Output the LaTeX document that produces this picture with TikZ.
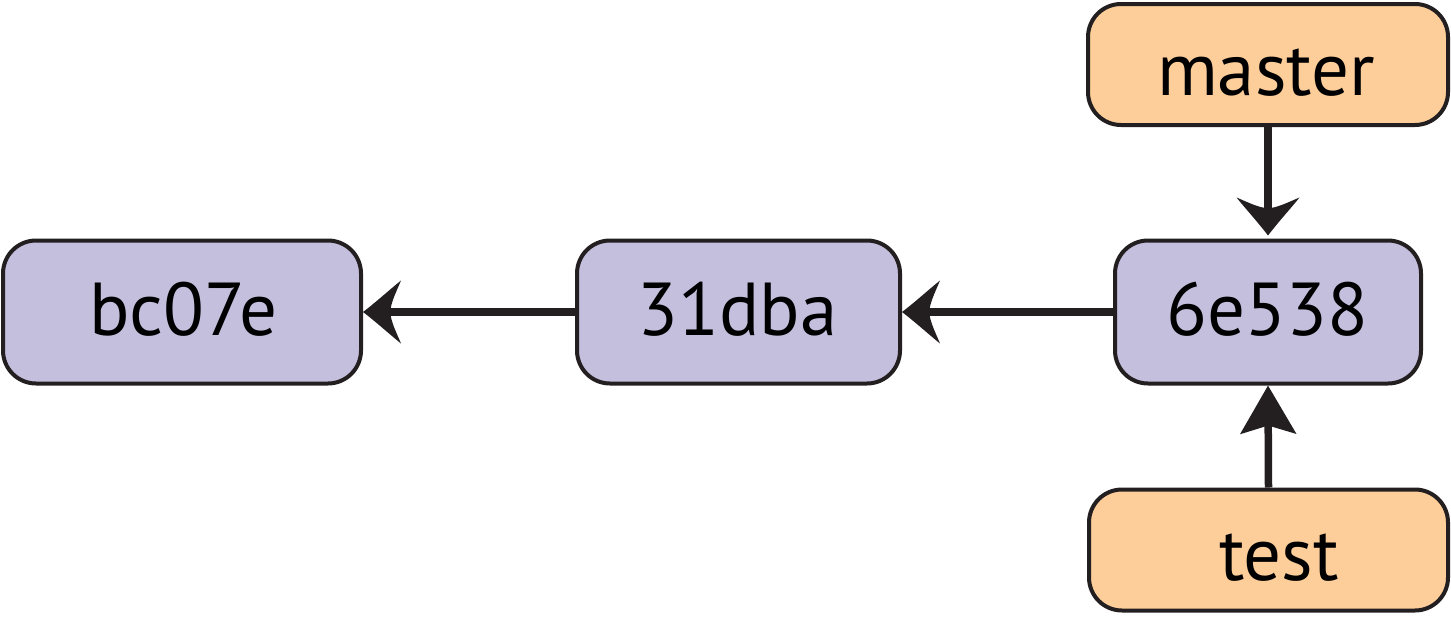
\documentclass[tikz,border=0pt]{standalone}
\usepackage{fontspec}
\setmainfont{PT Sans}
\usetikzlibrary{arrows.meta}
\definecolor{commitfill}{HTML}{C5BFDE}
\definecolor{branchfill}{HTML}{FDCE9A}
\definecolor{edgecol}{HTML}{231F20}
\pgfdeclarearrow{
  name=CurvyBarb,
  parameters={\the\pgfarrowlength,\the\pgfarrowwidth},
  setup code={
    \pgfarrowssettipend{0pt}
    \pgfarrowssetlineend{-0.5\pgfarrowlength}
    \pgfarrowssetbackend{-\pgfarrowlength}
    \pgfarrowssavethe\pgfarrowlength
    \pgfarrowssavethe\pgfarrowwidth
  },
  drawing code={
    \pgfpathmoveto{\pgfpointorigin}
    \pgfpathcurveto{\pgfpoint{-0.35\pgfarrowlength}{0.16\pgfarrowwidth}}{\pgfpoint{-0.75\pgfarrowlength}{0.38\pgfarrowwidth}}{\pgfpoint{-\pgfarrowlength}{0.5\pgfarrowwidth}}
    \pgfpathcurveto{\pgfpoint{-0.86\pgfarrowlength}{0.3\pgfarrowwidth}}{\pgfpoint{-0.72\pgfarrowlength}{0.13\pgfarrowwidth}}{\pgfpoint{-0.72\pgfarrowlength}{0pt}}
    \pgfpathcurveto{\pgfpoint{-0.72\pgfarrowlength}{-0.13\pgfarrowwidth}}{\pgfpoint{-0.86\pgfarrowlength}{-0.3\pgfarrowwidth}}{\pgfpoint{-\pgfarrowlength}{-0.5\pgfarrowwidth}}
    \pgfpathcurveto{\pgfpoint{-0.75\pgfarrowlength}{-0.38\pgfarrowwidth}}{\pgfpoint{-0.35\pgfarrowlength}{-0.16\pgfarrowwidth}}{\pgfpointorigin}
    \pgfpathclose
    \pgfusepathqfill
  },
  defaults={length=38pt,width=63pt}
}
\tikzset{
  box/.style={draw=edgecol, line width=4pt, rounded corners=33pt, inner sep=0pt},
  commit/.style={box, fill=commitfill, minimum height=143pt},
  branch/.style={box, fill=branchfill, minimum height=121pt},
  lbl/.style={anchor=base, inner sep=0pt, font=\fontsize{75}{82}\selectfont, text=black},
  conn/.style={draw=edgecol, line width=7.5pt},
  curvyhead/.style={conn, -{CurvyBarb[length=38pt,width=63pt]}},
  stealthhead/.style={conn, -{Stealth[length=48pt,width=55pt,inset=8pt]}}
}
\begin{document}
\begin{tikzpicture}[x=1pt,y=-1pt]
\useasboundingbox (0,0) rectangle (1451,616);
\node[commit, minimum width=358pt] (c1) at (182,312) {};
\node[commit, minimum width=323pt] (c2) at (738.5,312) {};
\node[commit, minimum width=306pt] (c3) at (1268,312) {};
\node[branch, minimum width=360pt] (master) at (1268,64.5) {};
\node[branch, minimum width=359pt] (test) at (1268.5,550) {};
\node[lbl] (c1t) at (183.5,335) {bc07e};
\node[lbl] (c2t) at (737.5,335) {31dba};
\node[lbl] (c3t) at (1267.5,335) {6e538};
\node[lbl] (mt) at (1266,95) {master};
\node[lbl] (tt) at (1279,580) {test};
\draw[curvyhead] (c3.west) -- (c2.east);
\draw[curvyhead] (c2.west) -- (c1.east);
\draw[curvyhead, shorten >=3pt] (master.south) -- (c3.north);
\draw[stealthhead] (test.north) -- (c3.south);
\end{tikzpicture}
\end{document}
